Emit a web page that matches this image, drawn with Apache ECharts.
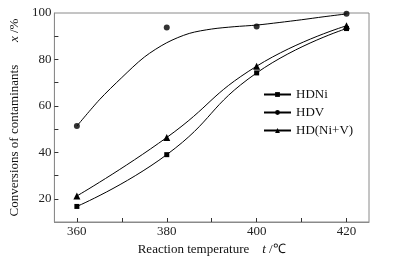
<!DOCTYPE html>
<html>
<head>
<meta charset="utf-8">
<script src="https://cdn.jsdelivr.net/npm/echarts@6/dist/echarts.min.js"></script>
<style>
html, body { margin: 0; padding: 0; background: #fff; }
#main { width: 402px; height: 263px; }
</style>
</head>
<body>
<div id="main"></div>
<script>
// temperatures, deg C
var temps = [360, 380, 400, 420];
var hdni = [16.7, 39.0, 74.2, 93.3];
var hdv = [51.3, 93.8, 94.2, 99.7];
var hdnv = [21.2, 46.4, 77.1, 94.5];
// fitted HDV curve, every 5 degrees
var hdvFitT = [360, 365, 370, 375, 380, 385, 390, 395, 400, 405, 410, 415, 420];
var hdvFitY = [51.3, 62.6, 72.2, 81.0, 87.2, 91.2, 93.1, 94.1, 94.8, 95.9, 97.1, 98.4, 99.6];
var xTicks = [360, 370, 380, 390, 400, 410, 420];
var xLabels = [360, 380, 400, 420];
var yTicks = [20, 30, 40, 50, 60, 70, 80, 90];
var yLabels = [20, 40, 60, 80, 100];

function pairs(xs, ys) {
    return xs.map(function (x, i) { return [x, ys[i]]; });
}

var myChart = echarts.init(document.getElementById('main'));
var font = "'Liberation Serif', 'Times New Roman', serif";
var lineCol = '#000';

var option = {
    animation: false,
    textStyle: { fontFamily: font },
    grid: {
        left: 53, right: 33, top: 13, bottom: 41,
        show: true, borderColor: '#8a8a8a', borderWidth: 1
    },
    legend: {
        data: ['HDNi', 'HDV', 'HD(Ni+V)'],
        orient: 'vertical',
        left: 263, top: 88, padding: 0,
        itemWidth: 27, itemHeight: 6, itemGap: 5,
        textStyle: { fontFamily: font, fontSize: 13, color: '#111' }
    },
    xAxis: {
        type: 'value', min: 355, max: 425,
        name: '{a|Reaction temperature}    {i|t} /℃',
        nameLocation: 'middle', nameGap: 21,
        nameTextStyle: {
            fontFamily: font, fontSize: 13, color: '#111',
            rich: { a: { fontFamily: font, fontSize: 13 }, i: { fontFamily: font, fontSize: 13, fontStyle: 'italic' } }
        },
        axisLine: { lineStyle: { color: '#8a8a8a' } },
        axisTick: { inside: true, length: 4, customValues: xTicks, lineStyle: { color: '#333' } },
        axisLabel: { customValues: xLabels, margin: 3, fontFamily: font, fontSize: 13, color: '#222' },
        splitLine: { show: false }
    },
    yAxis: {
        type: 'value', min: 10, max: 100,
        name: '{a|Conversions of contaminants}       {i|x} /%',
        nameLocation: 'middle', nameGap: 31, nameRotate: 90,
        nameTextStyle: {
            fontFamily: font, fontSize: 13, color: '#111',
            rich: { a: { fontFamily: font, fontSize: 13 }, i: { fontFamily: font, fontSize: 13, fontStyle: 'italic' } }
        },
        axisLine: { show: true, lineStyle: { color: '#8a8a8a' } },
        axisTick: { show: true, inside: true, length: 4, customValues: yTicks, lineStyle: { color: '#333' } },
        axisLabel: { customValues: yLabels, margin: 3, fontFamily: font, fontSize: 13, color: '#222' },
        splitLine: { show: false }
    },
    series: [
        {
            name: 'HDNi', type: 'line', data: pairs(temps, hdni), smooth: 0.5,
            symbol: 'rect', symbolSize: 5,
            itemStyle: { color: lineCol }, lineStyle: { color: lineCol, width: 1 }
        },
        {
            name: 'HDV', type: 'line', data: pairs(hdvFitT, hdvFitY), smooth: 0.3,
            showSymbol: false, symbol: 'circle', symbolSize: 6,
            itemStyle: { color: lineCol }, lineStyle: { color: lineCol, width: 1 }
        },
        {
            name: 'HDV', type: 'scatter', data: pairs(temps, hdv),
            symbol: 'circle', symbolSize: 6,
            itemStyle: { color: lineCol }
        },
        {
            name: 'HD(Ni+V)', type: 'line', data: pairs(temps, hdnv), smooth: 0.5,
            symbol: 'triangle', symbolSize: 7,
            itemStyle: { color: lineCol }, lineStyle: { color: lineCol, width: 1 }
        }
    ]
};

myChart.setOption(option);
</script>
</body>
</html>
